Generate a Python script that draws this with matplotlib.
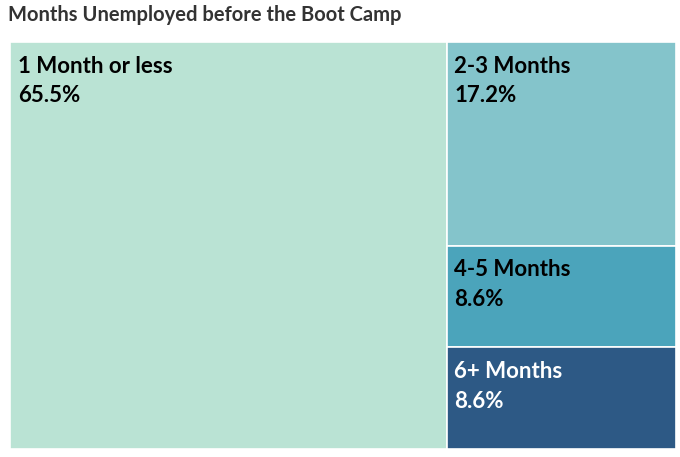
import matplotlib.pyplot as plt
from matplotlib.patches import Rectangle

plt.rcParams['font.family'] = ['Lato', 'DejaVu Sans']

categorie = ["1 Month or less", "2-3 Months", "4-5 Months", "6+ Months"]
percentuali = [65.5, 17.2, 8.6, 8.6]
colori = ["#bae3d4", "#84c4cb", "#4ba4bb", "#2d5985"]
colori_testo = ["black", "black", "black", "white"]

fig = plt.figure(figsize=(6.8, 4.57), dpi=100)
ax = fig.add_axes([10/680, 8/457, 666/680, 407/457])
ax.set_xlim(0, 1)
ax.set_ylim(1, 0)
ax.axis("off")

totale = sum(percentuali)
larg_sx = percentuali[0]/totale
resto = sum(percentuali[1:])

# rettangoli: il primo a sinistra, gli altri impilati a destra
rett = [(0, 0, larg_sx, 1)]
y = 0
for v in percentuali[1:]:
    h = v/resto
    rett.append((larg_sx, y, 1-larg_sx, h))
    y += h

for (x0, y0, w, h), cat, p, c, ct in zip(rett, categorie, percentuali, colori, colori_testo):
    ax.add_patch(Rectangle((x0, y0), w, h, facecolor=c, edgecolor="white", linewidth=1.2))
    ax.annotate(cat + "\n" + f"{p:.1f}%", xy=(x0, y0), xytext=(5.5, -10),
                textcoords="offset points", ha="left", va="top",
                fontsize=16, fontweight="bold", color=ct, linespacing=1.5)

fig.text(8/680, 1-5/457, "Months Unemployed before the Boot Camp", ha="left", va="top",
         fontsize=14.5, fontweight="bold", color="#333333")

fig.savefig("out.png", dpi=100)
